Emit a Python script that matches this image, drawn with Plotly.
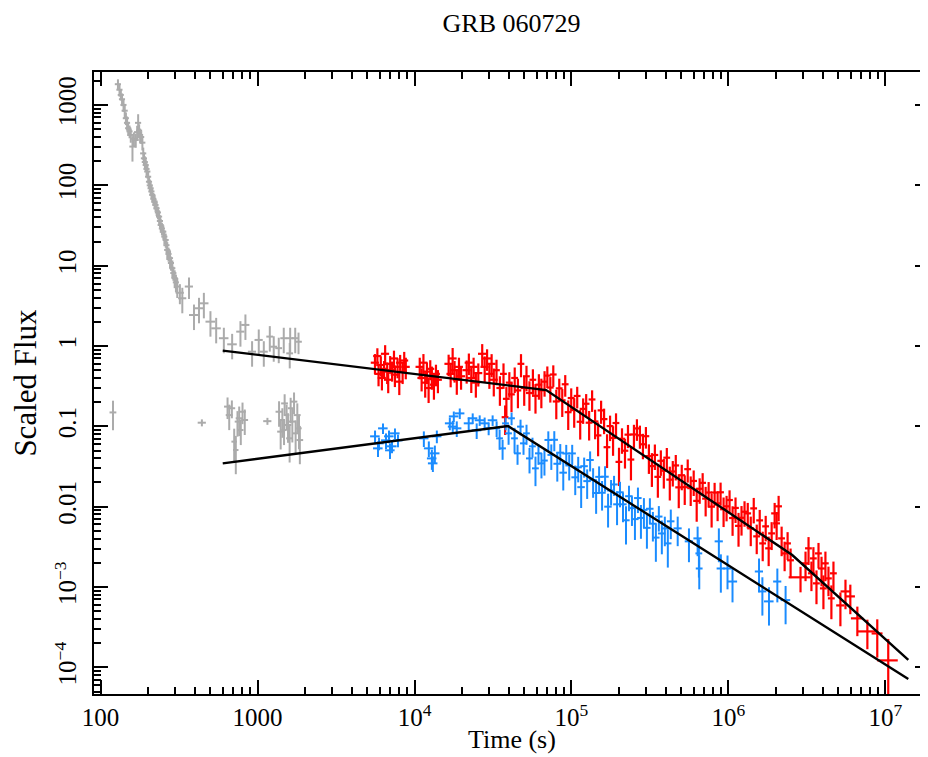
import plotly.graph_objects as go

# ---------------- grey: early (BAT + early XRT) ----------------
bat_t = [129, 132, 134.6, 137, 140, 142.5, 145, 147.5, 150, 153,
         155.7, 159.6, 163, 167.5, 171, 173.5, 176, 178.6, 181.5, 184.6,
         187, 189, 191.5, 194, 196.3, 198.7, 201, 203.6, 206, 208.5,
         211, 213.6, 217, 221, 224, 227.6, 232, 236, 239, 241.7,
         246, 251, 255, 260, 263, 266, 271, 277, 281, 286.6,
         291, 296.5, 302, 308, 320, 331.6, 365.8, 393.5, 423.5, 455,
         501, 545, 610, 689, 778, 837, 923, 1018, 1096, 1197,
         1268, 1365, 1469, 1604, 1614, 1738, 1824]
bat_f = [1816, 1550, 1336, 1180, 1003, 850, 685, 600, 514, 470,
         424, 304, 380, 367, 460, 600, 480, 424, 400, 340,
         250, 217, 195, 179, 160, 148.5, 128, 111, 100, 92,
         84, 76, 68, 62.8, 57, 51.8, 46, 40.8, 36, 32.1,
         29, 26.5, 23, 20.9, 18, 15.7, 14, 12.4, 10.8, 9.3,
         8.1, 7.0, 6.2, 5.5, 4.6, 3.93, 5.5, 2.43, 2.95, 3.4,
         2.01, 1.66, 1.25, 1.05, 1.51, 1.83, 0.85, 1.19, 0.85, 1.31,
         0.98, 0.94, 1.25, 0.81, 1.25, 1.25, 1.13]
bat_ferr = [.15, .18, .15, .18, .18, .20, .18, .20, .20, .18,
            .20, .35, .20, .20, .20, .28, .20, .20, .18, .20,
            .18, .18, .18, .18, .18, .18, .18, .18, .18, .18,
            .18, .20, .18, .20, .18, .20, .18, .20, .18, .20,
            .18, .20, .20, .20, .20, .25, .20, .25, .20, .25,
            .20, .25, .25, .28, .28, .35, .30, .35, .35, .35,
            .35, .35, .35, .35, .35, .35, .35, .35, .35, .35,
            .35, .35, .35, .35, .35, .35, .30]
bat_terr = [.045, .045, .045, .045, .045, .045, .045, .045, .045, .045,
            .045, .045, .045, .045, .045, .045, .045, .045, .045, .045,
            .045, .045, .045, .045, .045, .045, .045, .045, .045, .045,
            .045, .045, .045, .045, .045, .045, .045, .045, .045, .045,
            .045, .045, .045, .045, .045, .045, .045, .045, .045, .045,
            .045, .045, .045, .045, .06, .06, .06, .07, .07, .07,
            .07, .07, .07, .07, .06, .06, .06, .06, .06, .05,
            .05, .05, .05, .05, .05, .05, .05]

# ---------------- grey: lower early group ----------------
uv_t = [120, 442, 1156, 644, 686, 660, 710, 745, 764, 782,
        802, 829, 727, 1371, 1439, 1404, 1488, 1532, 1564, 1625,
        1666, 1708, 1748, 1792, 1837, 1475, 1601, 1860]
uv_f = [0.149, 0.111, 0.116, 0.176, 0.168, 0.138, 0.0645, 0.1145, 0.126, 0.0899,
        0.152, 0.120, 0.0507, 0.152, 0.120, 0.0859, 0.193, 0.138, 0.104, 0.168,
        0.1145, 0.203, 0.0818, 0.138, 0.0945, 0.0899, 0.0709, 0.0675]
uv_ferr = [.40, .10, .10, .30, .25, .35, .45, .35, .40, .35,
           .30, .35, .50, .35, .40, .40, .30, .35, .40, .35,
           .45, .30, .45, .40, .45, .35, .50, .50]
uv_terr = [.05, .06, .06, .05, .05, .05, .04, .04, .05, .04,
           .05, .05, .04, .05, .04, .05, .05, .04, .05, .04,
           .05, .05, .04, .05, .04, .04, .05, .05]

# ---------------- red: X-ray ----------------
red_early_t = [5600, 5800, 5900, 6100, 6200, 6400, 6500, 6700, 6800, 7000,
               7200, 7400, 7500, 7800, 8000, 8100, 8400, 8600, 8800,
               10800, 11100, 11400, 11700, 12000, 12300, 12600, 12900, 13300, 13700, 14100,
               16500, 17000, 17500, 18000, 18600, 19200, 19800,
               21500, 22200, 23000, 23800, 24600, 25500,
               27000, 28000, 29000, 30000, 31000, 32000]
red_early_f = [0.62, 0.75, 0.45, 0.58, 0.40, 0.52, 0.80, 0.48, 0.38, 0.60,
               0.50, 0.70, 0.44, 0.55, 0.36, 0.62, 0.48, 0.66, 0.55,
               0.55, 0.40, 0.62, 0.35, 0.48, 0.30, 0.52, 0.42, 0.33, 0.45, 0.38,
               0.60, 0.45, 0.70, 0.50, 0.38, 0.55, 0.42,
               0.50, 0.62, 0.40, 0.55, 0.35, 0.46,
               0.80, 0.55, 0.70, 0.45, 0.60, 0.38]
red_early_ferr = [.28, .25, .30, .28, .30, .25, .28, .30, .32, .25,
                  .28, .25, .30, .28, .32, .25, .30, .28, .30,
                  .30, .32, .28, .35, .30, .35, .28, .32, .35, .30, .32,
                  .30, .32, .35, .30, .35, .30, .32,
                  .32, .30, .35, .30, .35, .32,
                  .32, .35, .30, .35, .32, .38]

red_mid_t = [33300, 35000, 36900, 37800, 38500, 40200, 41500, 43500, 45600, 47700,
             50000, 51700, 54000, 56800, 59000, 62000, 64300, 67400]
red_mid_f = [0.50, 0.30, 0.45, 0.13, 0.22, 0.35, 0.25, 0.40, 0.28, 0.60,
             0.30, 0.42, 0.26, 0.38, 0.24, 0.33, 0.28, 0.36]
red_mid_ferr = [.35, .40, .35, .40, .40, .35, .40, .35, .40, .32,
                .40, .35, .40, .35, .40, .35, .40, .35]

red_decay_t = [70190, 73330, 76610, 80050, 83630, 87380, 91290, 95380, 99650, 104100,
               108800, 113700, 118700, 124100, 129600, 135400, 141500, 147800, 154500, 161400,
               168600, 176200, 184100, 192300, 200900, 209900, 219300, 229200, 239400, 250100,
               261300, 273000, 285300, 298100, 311400, 325400, 340000, 355200, 371100, 387700,
               405100, 423200, 442200, 462000, 482700, 504300, 526900, 550500, 575200, 601000,
               627900, 656000, 685400, 716100, 748200, 781700, 816800, 853400, 891600, 931600,
               973300, 1017000, 1063000, 1110000, 1160000, 1212000, 1267000]
red_decay_f = [0.428, 0.304, 0.442, 0.204, 0.297, 0.211, 0.334, 0.150, 0.225, 0.160,
               0.239, 0.114, 0.165, 0.191, 0.111, 0.216, 0.115, 0.0771, 0.158, 0.123,
               0.0550, 0.1007, 0.0716, 0.110, 0.0361, 0.070, 0.0497, 0.0788, 0.0386, 0.0792,
               0.0942, 0.0773, 0.0598, 0.0754, 0.0426, 0.0320, 0.0440, 0.0235, 0.0372, 0.0280,
               0.0407, 0.0217, 0.0274, 0.0326, 0.0174, 0.0246, 0.0175, 0.0293, 0.0170, 0.0209,
               0.0118, 0.0167, 0.0198, 0.0126, 0.0150, 0.0100, 0.0150, 0.0110, 0.0151, 0.00929,
               0.0101, 0.0121, 0.00722, 0.00964, 0.00577, 0.00727, 0.00865]
red_decay_ferr = [.30, .35, .30, .40, .32, .38, .30, .40, .32, .40,
                  .30, .40, .35, .32, .40, .30, .40, .45, .32, .35,
                  .45, .35, .40, .32, .50, .35, .40, .32, .45, .32,
                  .30, .32, .35, .30, .40, .45, .35, .45, .35, .40,
                  .32, .45, .35, .35, .45, .35, .40, .32, .40, .35,
                  .45, .35, .32, .40, .35, .45, .32, .40, .32, .40,
                  .35, .32, .40, .35, .45, .40, .35]

red_late_t = [1328000, 1388000, 1450000, 1515000, 1583000, 1654000, 1728000, 1805000, 1886000, 1971000,
              2029000, 2089000, 2183000, 2281000, 2383000, 2490000, 2880000, 3100000, 3240000, 3380000,
              3480000, 3640000, 3750000, 3920000, 4030000, 4150000, 4340000, 4530000, 4670000, 5170000,
              5570000, 5980000, 6630000, 7680000, 8880000, 10430000]
red_late_f = [8.25e-3, 5.37e-3, 9.52e-3, 4.27e-3, 6.75e-3, 3.49e-3, 5.69e-3, 3.03e-3, 4.65e-3, 8.25e-3,
              6.20e-3, 1.01e-2, 4.03e-3, 2.62e-3, 3.49e-3, 2.15e-3, 1.32e-3, 1.97e-3, 3.03e-3, 1.48e-3,
              2.27e-3, 1.11e-3, 2.62e-3, 1.70e-3, 9.61e-4, 1.97e-3, 1.28e-3, 7.22e-4, 1.48e-3, 5.90e-4,
              8.81e-4, 7.64e-4, 4.07e-4, 2.80e-4, 2.64e-4, 1.22e-4]
red_late_ferr = [.35, .40, .35, .40, .35, .40, .35, .40, .38, .35,
                 .38, .35, .40, .40, .38, .40, .35, .40, .38, .40,
                 .38, .45, .35, .40, .45, .40, .40, .45, .40, .45,
                 .40, .40, .40, .40, .50, .85]
red_late_terr = [.05, .05, .05, .05, .05, .05, .05, .05, .05, .05,
                 .05, .05, .05, .05, .05, .05, .16, .05, .05, .05,
                 .05, .05, .05, .05, .05, .05, .05, .05, .05, .06,
                 .07, .07, .09, .13, .08, .15]

# ---------------- blue: optical ----------------
blue_early_t = [5605, 5853, 5943, 6300, 6582, 6878, 6979, 7187, 7509, 7846,
                11470, 12340, 12900, 13090, 13480, 13880,
                16790, 17530, 17800, 18590, 19430,
                22150, 23490, 24900, 26020,
                27990, 29680, 31460]
blue_early_f = [0.0751, 0.0532, 0.0614, 0.0944, 0.0669, 0.0751, 0.0503, 0.0564, 0.0818, 0.0669,
                0.0709, 0.0532, 0.0399, 0.0346, 0.0461, 0.0751,
                0.109, 0.0992, 0.133, 0.0945, 0.145,
                0.109, 0.126, 0.0892, 0.119,
                0.109, 0.0945, 0.119]
blue_early_ferr = [.18, .22, .18, .15, .22, .18, .22, .18, .15, .18,
                   .22, .22, .28, .22, .25, .18,
                   .18, .18, .15, .22, .15,
                   .18, .15, .22, .15,
                   .18, .18, .15]

blue_mid_t = [33360, 34850, 36410, 38050, 39760, 41540, 43400, 45340, 47380, 49500,
              51720, 54040, 56460, 58990, 61640, 64410, 67290]
blue_mid_f = [0.0945, 0.0709, 0.0532, 0.109, 0.0818, 0.126, 0.0709, 0.0461, 0.0992, 0.0614,
              0.0818, 0.0399, 0.0564, 0.0300, 0.0461, 0.0346, 0.0375]
blue_mid_ferr = [.22, .28, .28, .18, .28, .18, .35, .28, .22, .28,
                 .28, .35, .28, .40, .28, .35, .35]

blue_decay_t = [71220, 74410, 77740, 81230, 84860, 88670, 92640, 96780, 101100, 105700,
                110400, 115300, 120500, 125900, 131500, 137400, 143600, 150000, 156700, 163800,
                171100, 178800, 186800, 195200, 203900, 213000, 222600, 232500, 242900, 253800,
                265200, 277100, 289500, 302500, 316000, 330200, 345000, 360400, 376600, 393400,
                411100, 429500]
blue_decay_f = [0.0677, 0.0441, 0.0680, 0.0342, 0.0470, 0.0265, 0.0459, 0.0326, 0.0460, 0.0232,
                0.0309, 0.0175, 0.0319, 0.0208, 0.0381, 0.0215, 0.0148, 0.0235, 0.0149, 0.0236,
                0.0100, 0.0159, 0.0189, 0.0107, 0.0151, 0.0107, 0.00677, 0.0135, 0.00959, 0.00700,
                0.0128, 0.00724, 0.00912, 0.00545, 0.00942, 0.00614, 0.00412, 0.00753, 0.00464, 0.00536,
                0.00349, 0.00657]
blue_decay_ferr = [.28, .35, .28, .40, .28, .40, .28, .35, .28, .40,
                   .35, .45, .28, .40, .28, .40, .45, .35, .40, .35,
                   .45, .35, .28, .45, .35, .40, .50, .35, .40, .45,
                   .35, .45, .40, .45, .35, .40, .50, .35, .45, .40,
                   .50, .40]

blue_late_t = [475200, 560500, 636500, 648700, 652000, 869200, 895000, 986900, 1062000, 1567000,
               1646000, 1813000, 2050000, 2314000]
blue_late_f = [0.00537, 0.00370, 0.00403, 0.00262, 0.00170, 0.00370, 0.00170, 0.00170, 0.00117, 0.00156,
               0.000881, 0.000662, 0.00117, 0.000687]
blue_late_ferr = [.40, .45, .40, .50, .45, .45, .50, .45, .45, .45,
                  .50, .50, .45, .50]
blue_late_terr = [.06, .06, .06, .05, .05, .06, .06, .06, .07, .06,
                  .06, .07, .06, .07]

# ---------------- broken power-law fits ----------------
fit_upper_t = [600, 69000, 2550000, 14000000]
fit_upper_f = [0.877, 0.283, 0.0025, 0.000124]
fit_lower_t = [600, 39400, 14000000]
fit_lower_f = [0.0346, 0.101, 0.0000714]

# ---------------- tick labels ----------------
x_tickvals = [100, 1000, 1e4, 1e5, 1e6, 1e7]
x_ticktext = ["100", "1000", "10<sup>4</sup>", "10<sup>5</sup>", "10<sup>6</sup>", "10<sup>7</sup>"]
y_tickvals = [1e-4, 1e-3, 0.01, 0.1, 1, 10, 100, 1000]
y_ticktext = ["10<sup>\u22124</sup>", "10<sup>\u22123</sup>", "0.01", "0.1", "1", "10", "100", "1000"]

GREY = "#ababab"
RED = "#ff0000"
BLUE = "#1a8cff"
FONT = "Liberation Serif"
X_RANGE = [1.958, 7.278]
Y_RANGE = [-4.332, 3.411]


def cross_trace(t, f, ferr, terr, color, width=2.0):
    if not isinstance(terr, list):
        terr = [terr for _ in t]
    ey = [v * e for v, e in zip(f, ferr)]
    ex = [v * e for v, e in zip(t, terr)]
    return go.Scatter(
        x=t, y=f, mode="markers",
        marker=dict(size=1, color="rgba(0,0,0,0)"),
        error_x=dict(type="data", array=ex, arrayminus=ex, color=color, thickness=width, width=0),
        error_y=dict(type="data", array=ey, arrayminus=ey, color=color, thickness=width, width=0),
        showlegend=False, hoverinfo="x+y",
    )


fig = go.Figure()
fig.add_trace(cross_trace(bat_t, bat_f, bat_ferr, bat_terr, GREY, 2.0))
fig.add_trace(cross_trace(uv_t, uv_f, uv_ferr, uv_terr, GREY, 2.0))
fig.add_trace(cross_trace(red_early_t, red_early_f, red_early_ferr, 0.06, RED, 2.2))
fig.add_trace(cross_trace(red_mid_t, red_mid_f, red_mid_ferr, 0.05, RED, 2.2))
fig.add_trace(cross_trace(red_decay_t, red_decay_f, red_decay_ferr, 0.05, RED, 2.2))
fig.add_trace(cross_trace(red_late_t, red_late_f, red_late_ferr, red_late_terr, RED, 2.2))
fig.add_trace(cross_trace(blue_early_t, blue_early_f, blue_early_ferr, 0.07, BLUE, 2.0))
fig.add_trace(cross_trace(blue_mid_t, blue_mid_f, blue_mid_ferr, 0.05, BLUE, 2.0))
fig.add_trace(cross_trace(blue_decay_t, blue_decay_f, blue_decay_ferr, 0.055, BLUE, 2.0))
fig.add_trace(cross_trace(blue_late_t, blue_late_f, blue_late_ferr, blue_late_terr, BLUE, 2.0))

for tt, ff in ((fit_upper_t, fit_upper_f), (fit_lower_t, fit_lower_f)):
    fig.add_trace(go.Scatter(x=tt, y=ff, mode="lines", line=dict(color="black", width=2.4),
                             showlegend=False, hoverinfo="skip"))

# invisible trace so the mirrored (top/right) tick axes are drawn
fig.add_trace(go.Scatter(x=[1000], y=[1], xaxis="x2", yaxis="y2", mode="markers",
                         marker=dict(size=1, color="rgba(0,0,0,0)"),
                         showlegend=False, hoverinfo="skip"))

x_minor = [m * 10 ** d for d in range(2, 8) for m in range(2, 10) if m * 10 ** d < 1.85e7]
y_minor = [m * 10.0 ** d for d in range(-5, 4) for m in range(2, 10) if 4.7e-5 < m * 10.0 ** d < 2500]

tick_style = dict(ticks="inside", ticklen=14, tickwidth=1.5, tickcolor="black")
minor_x = dict(ticks="inside", ticklen=7, tickwidth=1.5, tickcolor="black",
               tickmode="array", tickvals=x_minor)
minor_y = dict(ticks="inside", ticklen=7, tickwidth=1.5, tickcolor="black",
               tickmode="array", tickvals=y_minor)

fig.update_layout(
    width=928, height=757,
    margin=dict(l=86, r=7, t=64, b=71),
    paper_bgcolor="white", plot_bgcolor="white",
    font=dict(family=FONT, color="black"),
    title=dict(text="GRB 060729", x=0.5, xref="paper", y=1 - 15 / 757, yref="container",
               yanchor="middle", font=dict(family=FONT, size=26, color="black")),
    xaxis=dict(type="log", range=X_RANGE, automargin=False, showgrid=False, zeroline=False,
               showline=True, linecolor="black", linewidth=2, mirror=True, **tick_style,
               tickmode="array", tickvals=x_tickvals, ticktext=x_ticktext,
               tickfont=dict(family=FONT, size=25, color="black"), minor=minor_x),
    yaxis=dict(type="log", range=Y_RANGE, automargin=False, showgrid=False, zeroline=False,
               showline=True, linecolor="black", linewidth=2, mirror=True, **tick_style,
               tickmode="array", tickvals=y_tickvals, ticktext=y_ticktext, tickangle=-90,
               ticklabelstandoff=6,
               tickfont=dict(family=FONT, size=25, color="black"), minor=minor_y,
               title=dict(text="Scaled Flux", font=dict(family=FONT, size=31), standoff=12)),
    xaxis2=dict(type="log", range=X_RANGE, overlaying="x", side="top", automargin=False,
                showgrid=False, zeroline=False, showline=False, showticklabels=False,
                **tick_style, tickmode="array", tickvals=x_tickvals, minor=minor_x),
    yaxis2=dict(type="log", range=Y_RANGE, overlaying="y", side="right", automargin=False,
                showgrid=False, zeroline=False, showline=False, showticklabels=False,
                **tick_style, tickmode="array", tickvals=y_tickvals, minor=minor_y),
    annotations=[dict(text="Time (s)", x=0.5, xref="paper", y=-(748 - 686) / 622, yref="paper",
                      xanchor="center", yanchor="bottom", showarrow=False,
                      font=dict(family=FONT, size=26, color="black"))],
)

fig.write_html("out.html")
